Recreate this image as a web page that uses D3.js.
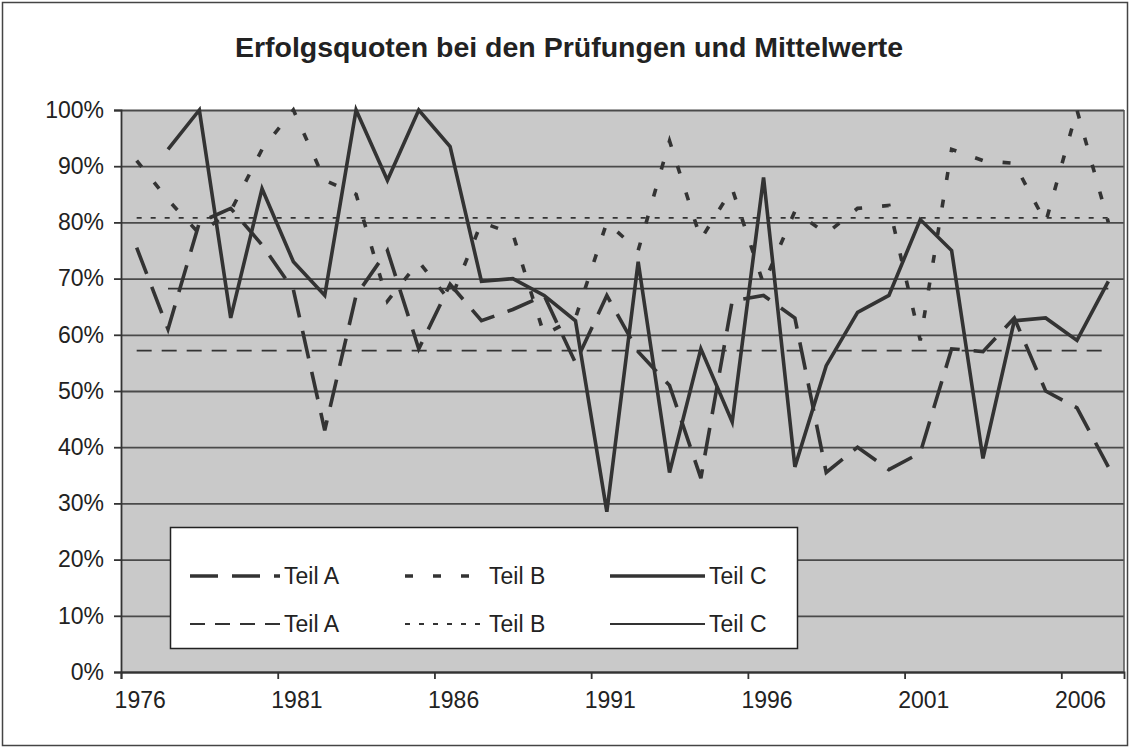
<!DOCTYPE html>
<html>
<head>
<meta charset="utf-8">
<script src="https://cdn.jsdelivr.net/npm/d3@7"></script>
<style>
  body { margin: 0; background: #fff; }
  svg { display: block; }
</style>
</head>
<body>
<svg id="chart" width="1138" height="749"></svg>
<script>
// categories
const years = [1976, 1977, 1978, 1979, 1980, 1981, 1982, 1983, 1984, 1985, 1986,
               1987, 1988, 1989, 1990, 1991, 1992, 1993, 1994, 1995, 1996, 1997,
               1998, 1999, 2000, 2001, 2002, 2003, 2004, 2005, 2006, 2007];
// series values (%)
const teilA = [75.5, 61, 80, 82.5, 76, 68, 43, 67, 75, 57.5, 69, 62.5, 64.5, 67, 55, 67,
               57, 51, 34.5, 66, 67, 63, 35.5, 40, 36, 39, 57.5, 57, 63, 50, 47, 36.5];
const teilB = [91, 84, 78, 82, 93, 100, 87.5, 85, 66, 73, 66, 80, 78, 60, 63, 80,
               75, 94.5, 77, 86, 69, 82, 78, 82.5, 83, 59, 93, 91, 90.5, 80, 100, 80];
const teilC = [null, 93, 100, 63, 86, 73, 67, 100, 87.5, 100, 93.5, 69.5, 70, 67, 62.5, 28.5,
               73, 35.5, 57.5, 44.5, 88, 36.5, 54.5, 64, 67, 80.5, 75, 38, 62.5, 63, 59, 69.5];
// mean lines (Mittelwerte)
const meanNames = ["Teil A", "Teil B", "Teil C"];
const meanValues = [57.2, 80.8, 68.2];
// tick labels
const yTicks = [0, 10, 20, 30, 40, 50, 60, 70, 80, 90, 100];
const xLabels = [1976, 1981, 1986, 1991, 1996, 2001, 2006];

const title = "Erfolgsquoten bei den Prüfungen und Mittelwerte";

(function() {
var svg = d3.select("#chart");
var font = "'Liberation Sans', Arial, sans-serif";
var ink = "#333";

var pLeft = 121, pRight = 1124, pTop = 110, pBottom = 672;

var x = d3.scaleBand().domain(years).range([pLeft, pRight]);
var bw = x.bandwidth();
var xLin = d3.scaleLinear().domain([years[0], years[years.length - 1] + 1]).range([pLeft, pRight]);
var y = d3.scaleLinear().domain([0, 100]).range([pBottom, pTop]);

// outer frame
svg.append("rect")
  .attr("x", 2.5).attr("y", 2.5)
  .attr("width", 1125).attr("height", 743)
  .attr("fill", "#fff")
  .attr("stroke", "#444")
  .attr("stroke-width", 1.5);

// title
svg.append("text")
  .attr("x", 569)
  .attr("y", 57)
  .attr("text-anchor", "middle")
  .attr("font-family", font)
  .attr("font-size", 28.5)
  .attr("font-weight", "700")
  .attr("fill", "#222")
  .text(title);

// plot area
svg.append("rect")
  .attr("x", pLeft).attr("y", pTop)
  .attr("width", pRight - pLeft).attr("height", pBottom - pTop)
  .attr("fill", "#c9c9c9");

// gridlines
svg.append("g")
  .attr("transform", "translate(" + pLeft + ",0)")
  .call(d3.axisLeft(y).tickValues(yTicks).tickSize(-(pRight - pLeft)).tickFormat(""))
  .call(g => g.select(".domain").remove())
  .selectAll("line")
  .attr("stroke", "#4a4a4a")
  .attr("stroke-width", 1.8);

// right border of plot
svg.append("line")
  .attr("x1", pRight).attr("x2", pRight)
  .attr("y1", pTop).attr("y2", pBottom)
  .attr("stroke", "#555")
  .attr("stroke-width", 1.5);

// y axis
var yAxis = svg.append("g")
  .attr("transform", "translate(" + pLeft + ",0)")
  .call(d3.axisLeft(y).tickValues(yTicks).tickSize(7).tickPadding(10).tickFormat(d => d + "%"));
yAxis.select(".domain").attr("stroke", "#333").attr("stroke-width", 1.8);
yAxis.selectAll("line").attr("stroke", "#333").attr("stroke-width", 1.8);
yAxis.selectAll("text")
  .attr("font-family", font)
  .attr("font-size", 23)
  .attr("fill", "#222");

// x axis: ticks on category borders, labels centered in the category
var xAxis = svg.append("g")
  .attr("transform", "translate(0," + pBottom + ")")
  .call(d3.axisBottom(xLin).tickValues(xLabels).tickSize(7).tickPadding(13).tickFormat(d3.format("d")));
xAxis.select(".domain").attr("stroke", "#333").attr("stroke-width", 1.8);
xAxis.selectAll("line").attr("stroke", "#333").attr("stroke-width", 1.8);
xAxis.selectAll("text")
  .attr("x", bw / 2 + 3)
  .attr("font-family", font)
  .attr("font-size", 23)
  .attr("fill", "#222");

// series
var seriesStyle = [
  {name: "Teil A", values: teilA, dash: "28,14"},
  {name: "Teil B", values: teilB, dash: "8,20"},
  {name: "Teil C", values: teilC, dash: null}
];
var meanStyle = ["15,10", "5,9", null];

var line = d3.line()
  .defined(d => d.v != null)
  .x(d => x(d.year) + bw / 2)
  .y(d => y(d.v));

// mean lines first (thin), spanning the years that have data
seriesStyle.forEach(function(s, i) {
  var pts = years.map((yr, k) => ({year: yr, v: s.values[k]})).filter(d => d.v != null);
  var first = pts[0].year, last = pts[pts.length - 1].year;
  svg.append("path")
    .datum([{year: first, v: meanValues[i]}, {year: last, v: meanValues[i]}])
    .attr("d", line)
    .attr("fill", "none")
    .attr("stroke", ink)
    .attr("stroke-width", 1.8)
    .attr("stroke-dasharray", meanStyle[i]);
});

seriesStyle.forEach(function(s) {
  svg.append("path")
    .datum(years.map((yr, k) => ({year: yr, v: s.values[k]})))
    .attr("d", line)
    .attr("fill", "none")
    .attr("stroke", ink)
    .attr("stroke-width", 3.6)
    .attr("stroke-linejoin", "miter")
    .attr("stroke-dasharray", s.dash);
});

// legend
var legend = svg.append("g");
legend.append("rect")
  .attr("x", 170.5).attr("y", 527.5)
  .attr("width", 627).attr("height", 121)
  .attr("fill", "#fff")
  .attr("stroke", "#222")
  .attr("stroke-width", 1.5);

var colX = [190, 405, 610];
var sampleW = [90, 80, 95];
var rowY = [576, 624];

seriesStyle.forEach(function(s, i) {
  // row 1: yearly series
  legend.append("line")
    .attr("x1", colX[i]).attr("x2", colX[i] + sampleW[i])
    .attr("y1", rowY[0]).attr("y2", rowY[0])
    .attr("stroke", ink)
    .attr("stroke-width", 3.6)
    .attr("stroke-dasharray", s.dash);
  legend.append("text")
    .attr("x", colX[i] + sampleW[i] + 4)
    .attr("y", rowY[0] + 8)
    .attr("font-family", font)
    .attr("font-size", 23)
    .attr("fill", "#222")
    .text(s.name);
  // row 2: mean lines
  legend.append("line")
    .attr("x1", colX[i]).attr("x2", colX[i] + sampleW[i])
    .attr("y1", rowY[1]).attr("y2", rowY[1])
    .attr("stroke", ink)
    .attr("stroke-width", 1.8)
    .attr("stroke-dasharray", meanStyle[i]);
  legend.append("text")
    .attr("x", colX[i] + sampleW[i] + 4)
    .attr("y", rowY[1] + 8)
    .attr("font-family", font)
    .attr("font-size", 23)
    .attr("fill", "#222")
    .text(meanNames[i]);
});
})();
</script>
</body>
</html>
